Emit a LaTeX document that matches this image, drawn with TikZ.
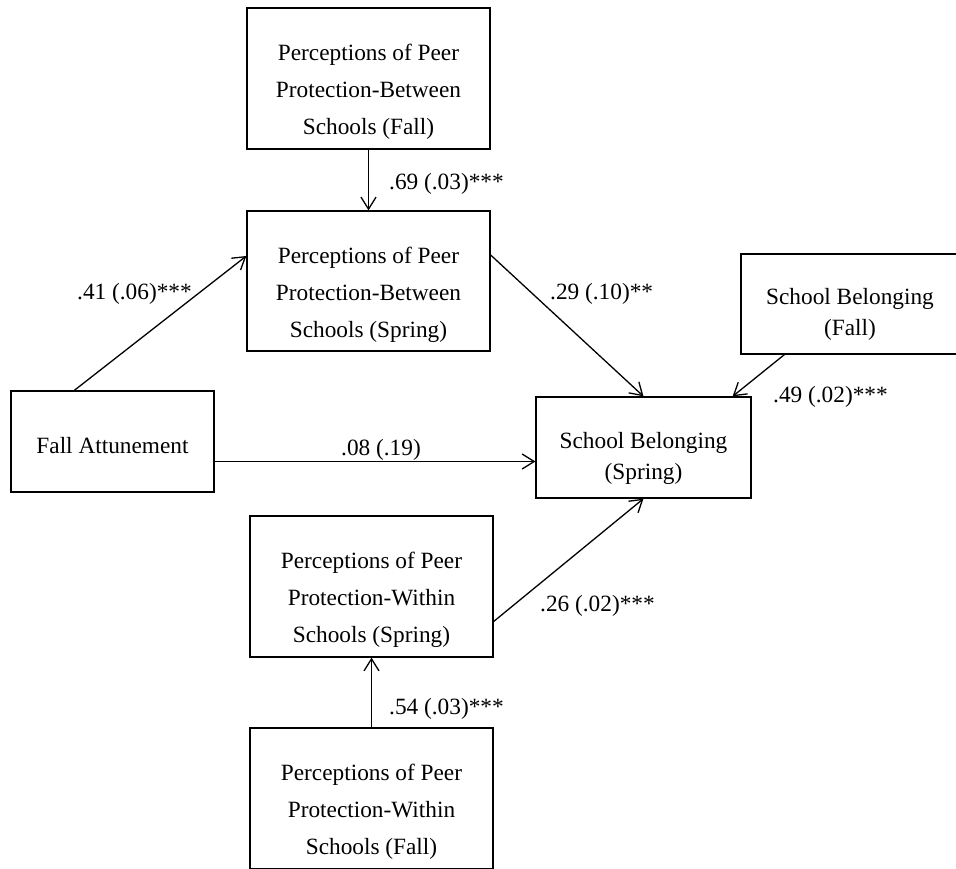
\documentclass[tikz,border=0pt]{standalone}
\usepackage{fontspec}
\setmainfont{Liberation Serif}
\usetikzlibrary{arrows.meta}

\begin{document}
\begin{tikzpicture}[x=1pt,y=-1pt,
        box/.style={draw,line width=1.3pt,rectangle,inner sep=0pt,minimum width=243pt,minimum height=141pt},
        smallbox/.style={box,minimum width=#1,minimum height=101pt},
        boxtext/.style={inner sep=0pt,align=center,font=\fontsize{23.3}{37}\selectfont},
        shorttext/.style={boxtext,font=\fontsize{23.3}{31}\selectfont},
        effect/.style={line width=1.3pt,-{Straight Barb[length=12pt,width=15pt,line width=1.3pt]}},
        coef/.style={inner sep=0pt,font=\fontsize{23.3}{28}\selectfont}]
        \clip (0,0) rectangle (956,869);
        % variables
        \node[box] (btwfall) at (368.5,78.5) {};
        \node[boxtext] (btwfall-txt) at ([yshift=-13.5pt]btwfall.center) {Perceptions of Peer\\Protection-Between\\Schools (Fall)};
        \node[box,minimum height=140pt] (btwspring) at (368.5,281) {};
        \node[boxtext] (btwspring-txt) at ([yshift=-13.5pt]btwspring.center) {Perceptions of Peer\\Protection-Between\\Schools (Spring)};
        \node[smallbox=203pt] (attune) at (112.5,441.5) {};
        \node[boxtext] (attune-txt) at ([yshift=-4.5pt]attune.center) {Fall Attunement};
        \node[smallbox=215pt] (belspring) at (643.5,447.5) {};
        \node[shorttext] (belspring-txt) at ([yshift=-10.5pt]belspring.center) {School Belonging\\(Spring)};
        \node[smallbox=218pt,minimum height=100pt] (belfall) at (850,304) {};
        \node[shorttext] (belfall-txt) at ([yshift=-10.5pt]belfall.center) {School Belonging\\(Fall)};
        \node[box] (witspring) at (371.5,586.5) {};
        \node[boxtext] (witspring-txt) at ([yshift=-13.5pt]witspring.center) {Perceptions of Peer\\Protection-Within\\Schools (Spring)};
        \node[box] (witfall) at (371.5,798.5) {};
        \node[boxtext] (witfall-txt) at ([yshift=-13.5pt]witfall.center) {Perceptions of Peer\\Protection-Within\\Schools (Fall)};
        % paths
        \draw[effect] (btwfall) -- (btwspring);
        \draw[effect] ([xshift=64pt]attune.north west) -- ([yshift=25pt]btwspring.west);
        \draw[effect] ([yshift=-20pt]attune.east) -- ([yshift=-20pt]attune.east -| belspring.west);
        \draw[effect] ([yshift=26pt]btwspring.east) -- (belspring.north);
        \draw[effect] ([xshift=44pt]belfall.south west) -- ([xshift=-19pt]belspring.north east);
        \draw[effect] ([yshift=-35pt]witspring.east) -- (belspring.south);
        \draw[effect] (witfall) -- (witspring);
        % coefficients
        \node[coef,anchor=west] (c69) at (389,184) {.69 (.03)***};
        \node[coef,anchor=west] (c41) at (77,294) {.41 (.06)***};
        \node[coef,anchor=west] (c29) at (550,294) {.29 (.10)**};
        \node[coef,anchor=west] (c49) at (773,397) {.49 (.02)***};
        \node[coef] (c08) at (381,450) {.08 (.19)};
        \node[coef,anchor=west] (c26) at (540,606) {.26 (.02)***};
        \node[coef,anchor=west] (c54) at (389,709) {.54 (.03)***};
    \end{tikzpicture}
\end{document}
